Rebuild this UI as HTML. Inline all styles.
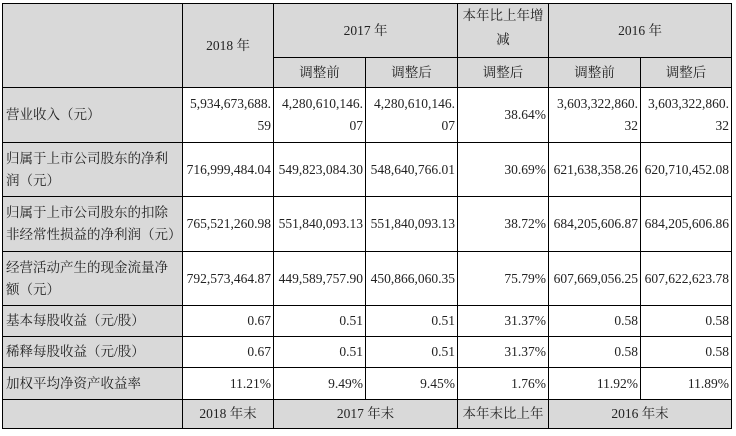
<!DOCTYPE html>
<html><head><meta charset="utf-8"><style>
html,body{margin:0;padding:0;background:#fff;width:736px;height:436px;overflow:hidden}
table{position:absolute;left:2px;top:3px;border-collapse:collapse;table-layout:fixed;
font-family:"Liberation Serif","Noto Serif CJK SC",serif;font-size:13.5px;color:#222}
td{border:1px solid #000;padding:0 2px;line-height:22px;text-align:right;white-space:nowrap;overflow:hidden}
.g{background:#d9d9d9}
.c{text-align:center}
.l{text-align:left;padding-left:3px;white-space:normal}
.h{text-align:center;white-space:normal;line-height:24px;padding:0 1px;vertical-align:top}
</style></head><body>
<table>
<colgroup><col style="width:180px"><col style="width:91px"><col style="width:92px"><col style="width:92px"><col style="width:91px"><col style="width:92px"><col style="width:91px"></colgroup>
<tr style="height:54px"><td class="g" rowspan="2"></td><td class="g c" rowspan="2">2018 年</td><td class="g c" colspan="2">2017 年</td><td class="g h">本年比上年增<br>减</td><td class="g c" colspan="2">2016 年</td></tr>
<tr style="height:30px"><td class="g c">调整前</td><td class="g c">调整后</td><td class="g c">调整后</td><td class="g c">调整前</td><td class="g c">调整后</td></tr>
<tr style="height:55px"><td class="g l">营业收入（元）</td><td>5,934,673,688.<br>59</td><td>4,280,610,146.<br>07</td><td>4,280,610,146.<br>07</td><td>38.64%</td><td>3,603,322,860.<br>32</td><td>3,603,322,860.<br>32</td></tr>
<tr style="height:54px"><td class="g l">归属于上市公司股东的净利润（元）</td><td>716,999,484.04</td><td>549,823,084.30</td><td>548,640,766.01</td><td>30.69%</td><td>621,638,358.26</td><td>620,710,452.08</td></tr>
<tr style="height:55px"><td class="g l">归属于上市公司股东的扣除非经常性损益的净利润（元）</td><td>765,521,260.98</td><td>551,840,093.13</td><td>551,840,093.13</td><td>38.72%</td><td>684,205,606.87</td><td>684,205,606.86</td></tr>
<tr style="height:54px"><td class="g l">经营活动产生的现金流量净额（元）</td><td>792,573,464.87</td><td>449,589,757.90</td><td>450,866,060.35</td><td>75.79%</td><td>607,669,056.25</td><td>607,622,623.78</td></tr>
<tr style="height:31px"><td class="g l">基本每股收益（元/股）</td><td>0.67</td><td>0.51</td><td>0.51</td><td>31.37%</td><td>0.58</td><td>0.58</td></tr>
<tr style="height:31px"><td class="g l">稀释每股收益（元/股）</td><td>0.67</td><td>0.51</td><td>0.51</td><td>31.37%</td><td>0.58</td><td>0.58</td></tr>
<tr style="height:32px"><td class="g l">加权平均净资产收益率</td><td>11.21%</td><td>9.49%</td><td>9.45%</td><td>1.76%</td><td>11.92%</td><td>11.89%</td></tr>
<tr style="height:29px"><td class="g"></td><td class="g c">2018 年末</td><td class="g c" colspan="2">2017 年末</td><td class="g c">本年末比上年</td><td class="g c" colspan="2">2016 年末</td></tr>
</table>
</body></html>
